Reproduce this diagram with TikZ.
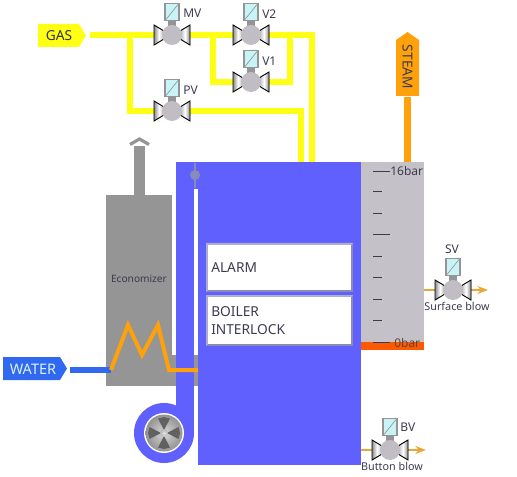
\documentclass[tikz,border=0pt]{standalone}
\usetikzlibrary{arrows.meta}
\usepackage{fontspec}
\setmainfont{Noto Sans}
\definecolor{gasy}{HTML}{FFFF14}
\definecolor{steamo}{HTML}{FFA10A}
\definecolor{boilb}{HTML}{6060FF}
\definecolor{ecog}{HTML}{959595}
\definecolor{gaugeg}{HTML}{C4C2C8}
\definecolor{ink}{HTML}{3C3C50}
\definecolor{waterb}{HTML}{3068F0}
\definecolor{blowo}{HTML}{E8A838}
\definecolor{ballg}{HTML}{C0BEC4}
\definecolor{actb}{HTML}{C8F4F8}
\definecolor{sens}{HTML}{8A8AB8}
\tikzset{
 x=0.75pt,y=-0.75pt,
 gaspipe/.style={draw=gasy,line width=3.8pt,line join=miter},
 steampipe/.style={draw=steamo,line width=5pt},
 coil/.style={draw=steamo,line width=3pt,line join=miter},
 waterpipe/.style={draw=waterb,line width=3.8pt},
 blowpipe/.style={draw=blowo,line width=1.6pt},
 lbl12/.style={inner sep=0pt,text=ink,font=\fontsize{9}{11}\selectfont},
 lbl11/.style={inner sep=0pt,text=ink,font=\fontsize{8.1}{10}\selectfont},
 lbl14/.style={inner sep=0pt,text=ink,font=\fontsize{10.3}{13.5}\selectfont},
 tick/.style={draw=ink,line width=0.7pt},
 valve/.pic={
  \fill[ecog] (-4,-15) rectangle (4,-7);
  \filldraw[draw=black,line width=0.7pt,left color=gray!90,right color=gray!60,middle color=white]
    (-18,-10) -- (-8,-4) -- (-8,4) -- (-18,10) -- cycle;
  \filldraw[draw=black,line width=0.7pt,left color=gray!60,right color=gray!90,middle color=white]
    (18,-10) -- (8,-4) -- (8,4) -- (18,10) -- cycle;
  \fill[ballg] (0,0) circle[radius=10];
  \filldraw[draw=ecog,line width=1.3pt,fill=actb] (-7,-31.5) rectangle (7,-14.5);
  \draw[ecog,line width=0.5pt] (-6,-15.5) -- (6,-30.5);
 }
}
\begin{document}
\begin{tikzpicture}
\useasboundingbox (0,0) rectangle (517,477);
% named points
\coordinate (mv) at (172,35);
\coordinate (v2) at (251,35);
\coordinate (v1) at (251,82);
\coordinate (pv) at (172,111);
\coordinate (sv) at (453,290);
\coordinate (bv) at (390,450);
\coordinate (gasout) at (90,35);
\coordinate (teeA) at (130,35);
\coordinate (teeB) at (213,35);
\coordinate (teeC) at (290,35);
\coordinate (inA) at (312,162);
\coordinate (inB) at (301,162);
\coordinate (steamin) at (407.5,162);
\coordinate (steamout) at (407.5,97);
\coordinate (wout) at (70,370);
\coordinate (coilin) at (111,370);
\coordinate (coilout) at (198,370);
\coordinate (sv0) at (424,290);
\coordinate (sv1) at (488,290);
\coordinate (bv0) at (361,450);
\coordinate (bv1) at (426,450);
% gas pipes
\draw[gaspipe] (gasout) -- (mv) -- (v2) -- (312,35) -- (inA);
\draw[gaspipe] (teeA) -- (130,111) -- (pv) -- (301,111) -- (inB);
\draw[gaspipe] (teeB) -- (213,82) -- (v1) -- (290,82) -- (teeC);
% GAS tag
\fill[gasy] (38,24) -- (79,24) -- (86,35.5) -- (79,47) -- (38,47) -- cycle;
\node[lbl14,text=ink!80!black] (gas) at (59,35.5) {GAS};
% valves
\pic at (mv) {valve};
\pic at (v2) {valve};
\pic at (v1) {valve};
\pic at (pv) {valve};
\node[lbl12,anchor=west] (mvl) at (183,13) {MV};
\node[lbl12,anchor=west] (v2l) at (262,14) {V2};
\node[lbl12,anchor=west] (v1l) at (262,61) {V1};
\node[lbl12,anchor=west] (pvl) at (183,90) {PV};
% steam
\draw[steampipe] (steamout) -- (steamin);
\fill[steamo] (396,96) -- (396,40) -- (407.5,32) -- (419,40) -- (419,96) -- cycle;
\node[lbl14,rotate=-90] (steam) at (407.5,67) {STEAM};
% economizer
\fill[ecog] (134,146) rectangle (145,196);
\draw[ecog,line width=2.4pt] (130,144.5) -- (139.5,139) -- (149,144.5);
\fill[ecog] (106,195) rectangle (172,386);
\fill[ecog] (172,355) rectangle (198,386);
\node[inner sep=0pt,text=ink,font=\fontsize{7.6}{9}\selectfont] (eco) at (139,279) {Economizer};
% boiler
\fill[boilb] (176,162) rectangle (361,189);
\fill[boilb] (176,162) rectangle (194,433);
\fill[boilb] (198,162) rectangle (361,465);
\fill[boilb] (164,433) circle[radius=30];
% fan
\fill[white] (164,433) circle[radius=20];
\shade[inner color=gray!30,outer color=gray!85] (164,433) circle[radius=18.5];
\foreach \a in {0,90,180,270}{
 \fill[black!62,rotate around={\a:(164,433)}] (164,430) -- (158,418.5) -- (164,417) -- (170,418.5) -- cycle;
}
\shade[inner color=gray!20,outer color=gray!60] (164,433) circle[radius=4];
% sensor
\draw[sens,line width=1.1pt] (195,163) -- (195,188);
\fill[sens] (195,175) circle[radius=5];
% panels
\path[fill=sens] (206,243) rectangle (353,292);
\path[fill=sens!70!white] (206,243) -- (353,243) -- (351,245) -- (208,245) -- (208,290) -- (206,292) -- cycle;
\fill[white] (208,245) rectangle (351,290);
\path[fill=sens] (206,295) rectangle (353,346);
\path[fill=sens!70!white] (206,295) -- (353,295) -- (351,297) -- (208,297) -- (208,344) -- (206,346) -- cycle;
\fill[white] (208,297) rectangle (351,344);
\node[lbl14,anchor=west] (alarm) at (211,268) {ALARM};
\node[lbl14,anchor=west,align=left] (inter) at (211,321) {BOILER\\INTERLOCK};
% gauge
\fill[gaugeg] (361,162) rectangle (424,350);
\fill[orange!70!red] (361,342) rectangle (424,350);
\foreach \y in {171,234,342}{\draw[tick] (373,\y) -- (390,\y);}
\foreach \y in {191,213,256,277,299,320}{\draw[tick] (373,\y) -- (382,\y);}
\node[lbl12,anchor=west] (top) at (390,171) {16bar};
\node[lbl12,anchor=west,text=ink!85!orange] (bot) at (394,343) {0bar};
% water and coil
\draw[waterpipe] (wout) -- (coilin);
\fill[waterb] (3,357) -- (60,357) -- (67,368.5) -- (60,380) -- (3,380) -- cycle;
\node[lbl14,text=white!85!cyan,font=\fontsize{10.9}{13}\selectfont] (water) at (33,369.5) {WATER};
\draw[coil] (coilin) -- (128,325) -- (142,355) -- (158,325) -- (169,370) -- (coilout);
% blow valves
\draw[blowpipe] (sv0) -- (sv);
\draw[blowpipe,-{Stealth[length=8pt,width=6pt]}] (sv) -- (sv1);
\pic at (sv) {valve};
\node[lbl12] (svl) at (452,249) {SV};
\node[lbl11] (svt) at (457,306) {Surface blow};
\draw[blowpipe] (bv0) -- (bv);
\draw[blowpipe,-{Stealth[length=8pt,width=6pt]}] (bv) -- (bv1);
\pic at (bv) {valve};
\node[lbl12,anchor=west] (bvl) at (400,427) {BV};
\node[lbl11] (bvt) at (392,466) {Button blow};
\end{tikzpicture}
\end{document}
